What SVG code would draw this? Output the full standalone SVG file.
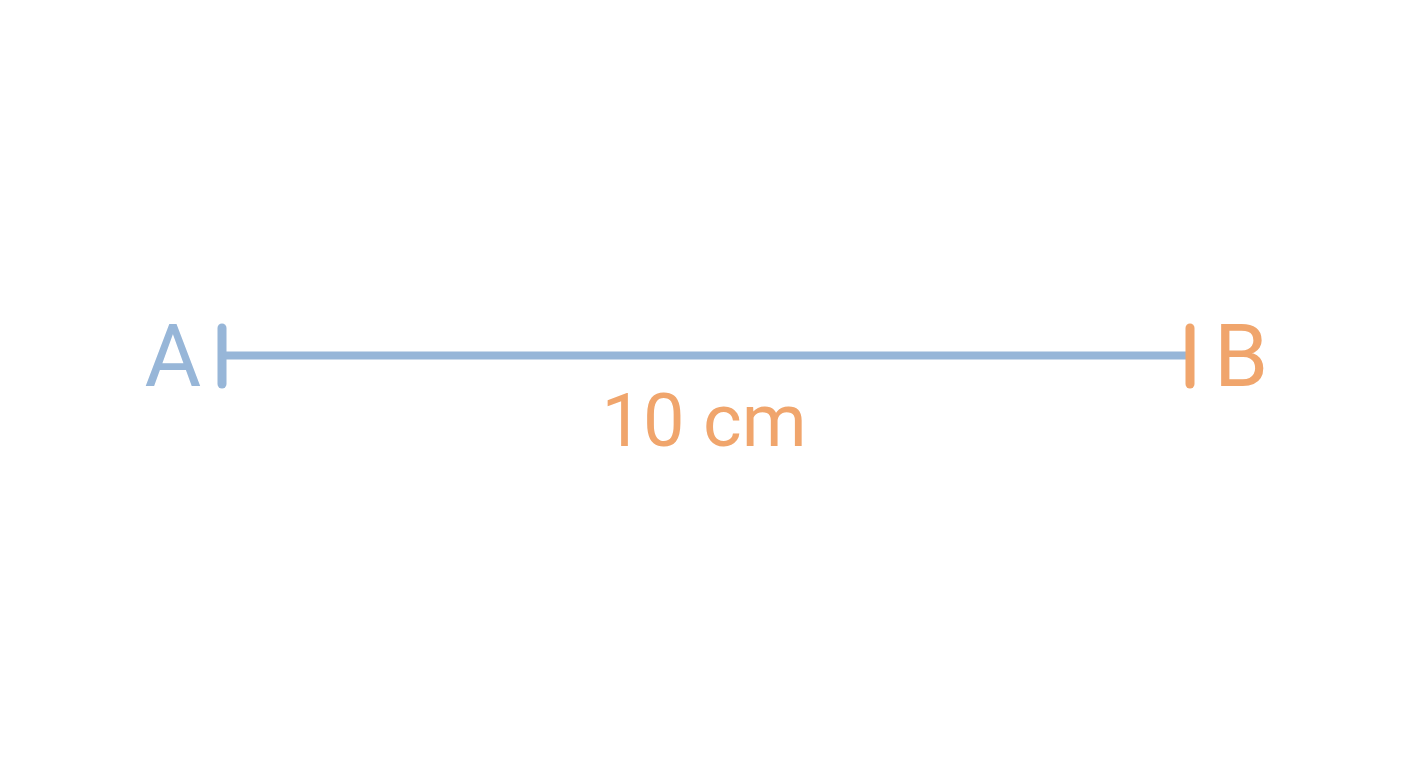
<svg xmlns="http://www.w3.org/2000/svg" width="1408" height="768" viewBox="0 0 1408 768">
<style>
.blue{stroke:#97b6d8;fill:none;stroke-linecap:round}
.orange{stroke:#f0a56c;fill:none;stroke-linecap:round}
.lbl{font-family:Roboto,"Liberation Sans",sans-serif}
</style>
<rect width="1408" height="768" fill="#ffffff"/>
<g id="connectors">
<line class="blue" x1="224" y1="355.5" x2="1188" y2="355.5" stroke-width="8"/>
</g>
<g id="nodeA">
<line class="blue" x1="222" y1="328" x2="222" y2="384" stroke-width="9"/>
<text class="lbl" x="173" y="386" font-size="87" fill="#97b6d8" text-anchor="middle">A</text>
</g>
<g id="nodeB">
<line class="orange" x1="1190" y1="328" x2="1190" y2="384" stroke-width="9"/>
<text class="lbl" x="1241" y="386" font-size="87" fill="#f0a56c" text-anchor="middle">B</text>
</g>
<g id="length">
<text class="lbl" x="704" y="446" font-size="74" fill="#f0a56c" text-anchor="middle">10 cm</text>
</g>
</svg>
